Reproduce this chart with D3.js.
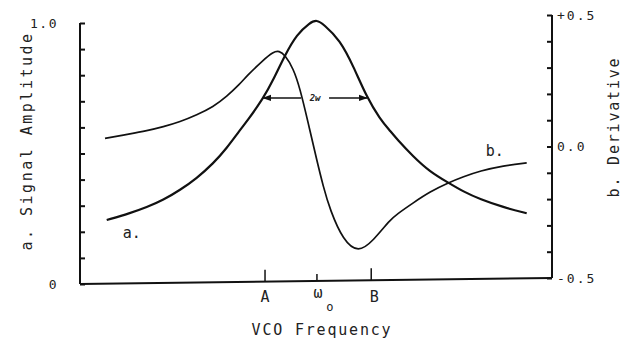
<!DOCTYPE html>
<html lang="en">
<head>
<meta charset="UTF-8">
<title>VCO Frequency</title>
<script src="https://cdn.jsdelivr.net/npm/d3@7/dist/d3.min.js"></script>
<style>
    body { margin: 0; background: #fff; }
    #chart text { font-family: "DejaVu Sans Mono", monospace; fill: #222; }
</style>
</head>
<body>
<div id="chart"></div>
<script>
// curve a: signal amplitude (left axis)
const freqA = [5.66, 10.59, 14.13, 17.65, 21.19, 24.72, 28.24, 31.08, 33.90, 35.32, 38.83, 40.95, 43.43, 45.91, 48.73, 50.15, 51.55, 55.08, 57.90, 60.74, 63.56, 65.68, 67.10, 70.61, 74.15, 78.03, 81.21, 84.75, 89.68, 94.64];
const ampA  = [0.245, 0.271, 0.294, 0.322, 0.360, 0.405, 0.462, 0.520, 0.590, 0.622, 0.711, 0.782, 0.877, 0.956, 1.002, 1.012, 0.996, 0.935, 0.835, 0.716, 0.632, 0.587, 0.556, 0.488, 0.430, 0.388, 0.354, 0.325, 0.294, 0.271];
// curve b: derivative (right axis)
const freqB  = [5.30, 10.59, 14.13, 17.65, 21.19, 24.72, 28.24, 31.08, 33.90, 35.32, 38.83, 40.95, 42.20, 43.43, 45.19, 46.61, 48.37, 50.15, 51.55, 52.97, 55.78, 58.96, 62.14, 65.68, 67.10, 70.61, 74.15, 78.03, 81.21, 84.75, 89.68, 94.64];
const derivB = [0.031, 0.048, 0.060, 0.075, 0.094, 0.120, 0.151, 0.190, 0.238, 0.268, 0.329, 0.360, 0.364, 0.348, 0.297, 0.221, 0.088, -0.051, -0.153, -0.241, -0.358, -0.405, -0.358, -0.279, -0.258, -0.214, -0.172, -0.138, -0.115, -0.093, -0.073, -0.062];
// frequency markers
const markerLabels = ["A", "\u03c9", "B"];
const markerFreqs = [39.2, 50.2, 61.7];
const markerTickLen = [12, 7, 12];
// axis ticks
const leftTicks = d3.range(0, 11).map(i => i / 10);
const leftLabels = [{v: 0, t: "0"}, {v: 1, t: "1.0"}];
const rightTicks = d3.range(-5, 6).map(i => i / 10);
const rightLabels = [{v: 0.5, t: "+0.5"}, {v: 0, t: "0.0"}, {v: -0.5, t: "-0.5"}];
// half width annotation
const halfWidth = {from: 38.8, to: 60.8, level: 0.713, label: "2w"};

const W = 637, H = 340;
const xLeft = 80, xRight = 552;

const svg = d3.select("#chart").append("svg")
    .attr("width", W).attr("height", H);

const x = d3.scaleLinear().domain([0, 100]).range([xLeft, xRight]);
const yA = d3.scaleLinear().domain([0, 1]).range([284, 23]);
const yB = d3.scaleLinear().domain([-0.5, 0.5]).range([278, 15]);

svg.append("defs").append("marker")
    .attr("id", "arrow")
    .attr("viewBox", "0 0 10 10")
    .attr("refX", 9).attr("refY", 5)
    .attr("markerWidth", 6).attr("markerHeight", 6)
    .attr("orient", "auto-start-reverse")
    .append("path").attr("d", "M0,1.5L10,5L0,8.5Z").attr("fill", "#111");

// left axis
const leftAxis = svg.append("g").attr("transform", `translate(${xLeft},0)`)
    .call(d3.axisRight(yA).tickValues(leftTicks).tickSize(5).tickFormat(""));
leftAxis.select(".domain").attr("d", `M0,${yA(1)}V${yA(0)}`);
leftAxis.selectAll("path, line").attr("stroke", "#111").attr("stroke-width", 2);

// right axis
const rightAxis = svg.append("g").attr("transform", `translate(${xRight},0)`)
    .call(d3.axisLeft(yB).tickValues(rightTicks).tickSize(5).tickFormat(""));
rightAxis.select(".domain").attr("d", `M0,${yB(0.5)}V${yB(-0.5)}`);
rightAxis.selectAll("path, line").attr("stroke", "#111").attr("stroke-width", 2);

// baseline (scan is slightly tilted)
svg.append("line")
    .attr("x1", xLeft).attr("y1", yA(0))
    .attr("x2", xRight).attr("y2", yB(-0.5))
    .attr("stroke", "#111").attr("stroke-width", 2);

const baseY = f => yA(0) + (yB(-0.5) - yA(0)) * (x(f) - xLeft) / (xRight - xLeft);

svg.selectAll("line.marker")
    .data(markerFreqs)
    .join("line")
    .classed("marker", true)
    .attr("x1", d => x(d)).attr("x2", d => x(d))
    .attr("y1", d => baseY(d))
    .attr("y2", (d, i) => baseY(d) - markerTickLen[i])
    .attr("stroke", "#111").attr("stroke-width", 1.5);

svg.selectAll("text.marker")
    .data(markerFreqs)
    .join("text")
    .classed("marker", true)
    .attr("x", (d, i) => x(d) + (i === 1 ? 1 : i === 2 ? 3 : 0))
    .attr("y", (d, i) => i === 1 ? 298 : 302)
    .attr("text-anchor", "middle")
    .style("font-size", "15px")
    .text((d, i) => markerLabels[i]);
svg.append("text")
    .attr("x", x(markerFreqs[1]) + 13).attr("y", 311)
    .attr("text-anchor", "middle")
    .style("font-size", "12px")
    .text("o");

svg.append("text")
    .attr("x", 322).attr("y", 335)
    .attr("text-anchor", "middle")
    .style("font-size", "15px").style("letter-spacing", "1.8px")
    .text("VCO Frequency");

// tick labels
svg.selectAll("text.lt")
    .data(leftLabels)
    .join("text").classed("lt", true)
    .attr("x", 58)
    .attr("y", d => yA(d.v))
    .attr("dy", "0.35em")
    .attr("text-anchor", "end")
    .style("font-size", "13px").style("letter-spacing", "1.5px")
    .text(d => d.t);

svg.selectAll("text.rt")
    .data(rightLabels)
    .join("text").classed("rt", true)
    .attr("x", 557)
    .attr("y", d => yB(d.v))
    .attr("dy", "0.35em")
    .attr("text-anchor", "start")
    .style("font-size", "13px").style("letter-spacing", "2px")
    .text(d => d.t);

// axis titles
svg.append("text")
    .attr("transform", "translate(27,141) rotate(-90)")
    .attr("text-anchor", "middle").attr("dy", "0.35em")
    .style("font-size", "15px").style("letter-spacing", "2.5px")
    .text("a. Signal Amplitude");

svg.append("text")
    .attr("transform", "translate(614,127) rotate(-90)")
    .attr("text-anchor", "middle").attr("dy", "0.35em")
    .style("font-size", "15px").style("letter-spacing", "1.8px")
    .text("b. Derivative");

// curves
const lineA = d3.line().x((d, i) => x(freqA[i])).y(d => yA(d)).curve(d3.curveBasis);
const lineB = d3.line().x((d, i) => x(freqB[i])).y(d => yB(d)).curve(d3.curveBasis);

svg.append("path").datum(ampA)
    .attr("d", lineA)
    .attr("fill", "none").attr("stroke", "#111").attr("stroke-width", 2.2);

svg.append("path").datum(derivB)
    .attr("d", lineB)
    .attr("fill", "none").attr("stroke", "#111").attr("stroke-width", 1.7);

svg.append("text").attr("x", x(freqA[0]) + 25).attr("y", yA(ampA[0]) + 18)
    .attr("text-anchor", "middle")
    .style("font-size", "15px").text("a.");
svg.append("text").attr("x", x(freqB[freqB.length - 1]) - 32).attr("y", yB(derivB[derivB.length - 1]) - 7)
    .attr("text-anchor", "middle")
    .style("font-size", "15px").text("b.");

// 2w arrows
const mid = (halfWidth.from + halfWidth.to) / 2;
svg.append("line")
    .attr("x1", x(mid) - 14).attr("x2", x(halfWidth.from))
    .attr("y1", yA(halfWidth.level)).attr("y2", yA(halfWidth.level))
    .attr("stroke", "#111").attr("stroke-width", 1.5)
    .attr("marker-end", "url(#arrow)");
svg.append("line")
    .attr("x1", x(mid) + 14).attr("x2", x(halfWidth.to))
    .attr("y1", yA(halfWidth.level)).attr("y2", yA(halfWidth.level))
    .attr("stroke", "#111").attr("stroke-width", 1.5)
    .attr("marker-end", "url(#arrow)");
svg.append("text")
    .attr("x", x(mid)).attr("y", yA(halfWidth.level)).attr("dy", "0.35em")
    .attr("text-anchor", "middle")
    .style("font-size", "9px").style("font-style", "italic").style("font-weight", "bold")
    .text(halfWidth.label);
</script>
</body>
</html>
